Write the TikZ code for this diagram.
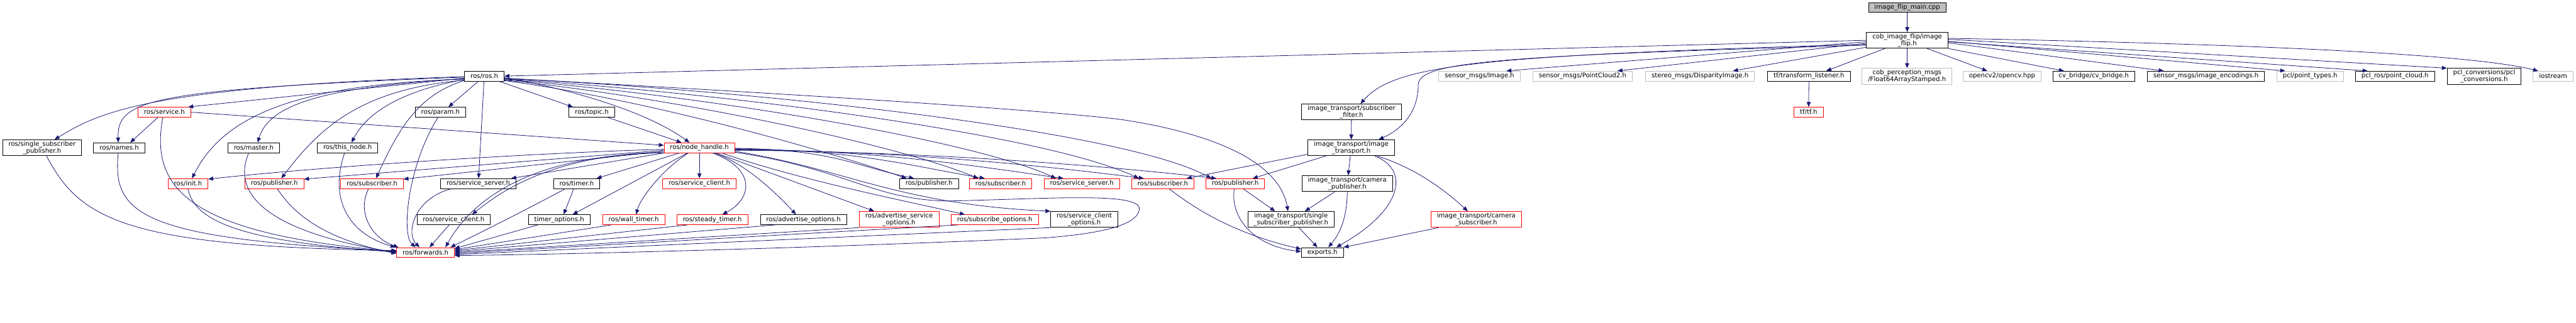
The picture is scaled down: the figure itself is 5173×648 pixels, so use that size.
\documentclass[tikz,border=0pt]{standalone}
\usepackage{fontspec}
\setmainfont{DejaVu Sans}
\usetikzlibrary{arrows.meta}
\definecolor{edgeblue}{HTML}{191970}
\definecolor{greyline}{HTML}{BFBFBF}
\tikzset{
  hfile/.style={draw=black,fill=white,line width=1pt,inner xsep=12pt,inner ysep=0pt,
    minimum height=20pt,align=center,font=\fontsize{12.8}{11.5}\selectfont},
  hred/.style={hfile,draw=red},
  hgrey/.style={hfile,draw=greyline},
  hmain/.style={hfile,fill=greyline},
  two/.style={minimum height=32pt},
  inc/.style={edgeblue,line width=1pt,-{Triangle[length=10pt,width=8pt]}}
}
\begin{document}
\begin{tikzpicture}[x=1pt,y=1pt]
\useasboundingbox (0,0) rectangle (5173,-648);
\node[hmain] (main) at (3830,-15) {image\_flip\_main.cpp};
\node[hfile,two] (flip) at (3830,-81) {cob\_image\_flip/image\\\_flip.h};
\node[hfile] (ros) at (972.5,-153) {ros/ros.h};
\node[hgrey] (img) at (2971,-153) {sensor\_msgs/Image.h};
\node[hgrey] (pc2) at (3178,-153) {sensor\_msgs/PointCloud2.h};
\node[hgrey] (disp) at (3414,-153) {stereo\_msgs/DisparityImage.h};
\node[hfile] (tfl) at (3632.5,-153) {tf/transform\_listener.h};
\node[hred] (tf) at (3632,-225.5) {tf/tf.h};
\node[hgrey,two] (f64) at (3829.5,-153.5) {cob\_perception\_msgs\\/Float64ArrayStamped.h};
\node[hgrey] (ocv) at (4020.5,-153) {opencv2/opencv.hpp};
\node[hfile] (cvb) at (4204.5,-153) {cv\_bridge/cv\_bridge.h};
\node[hfile] (enc) at (4430,-153) {sensor\_msgs/image\_encodings.h};
\node[hgrey] (pclt) at (4639,-153) {pcl/point\_types.h};
\node[hfile] (pclros) at (4809.5,-153) {pcl\_ros/point\_cloud.h};
\node[hfile,two] (pclconv) at (4988.5,-153.5) {pcl\_conversions/pcl\\\_conversions.h};
\node[hgrey] (iostr) at (5127,-153) {iostream};
\node[hfile,two] (itsf) at (2714,-225) {image\_transport/subscriber\\\_filter.h};
\node[hfile,two] (it) at (2713.5,-297) {image\_transport/image\\\_transport.h};
\node[hfile,two] (itcp) at (2705.5,-369) {image\_transport/camera\\\_publisher.h};
\node[hred,two] (itcs) at (2964.5,-441) {image\_transport/camera\\\_subscriber.h};
\node[hfile,two] (itssp) at (2592.5,-441) {image\_transport/single\\\_subscriber\_publisher.h};
\node[hfile] (exp) at (2655.5,-507.5) {exports.h};
\node[hred] (service) at (330,-225.5) {ros/service.h};
\node[hfile] (param) at (884.5,-225.5) {ros/param.h};
\node[hfile] (topic) at (1188.5,-225.5) {ros/topic.h};
\node[hfile,two] (rssp) at (84.5,-297) {ros/single\_subscriber\\\_publisher.h};
\node[hfile] (names) at (239.5,-297) {ros/names.h};
\node[hfile] (master) at (509.5,-297) {ros/master.h};
\node[hfile] (thisnode) at (698,-297) {ros/this\_node.h};
\node[hred] (nh) at (1404.5,-297) {ros/node\_handle.h};
\node[hred] (init) at (377.5,-369) {ros/init.h};
\node[hred] (pubA) at (551,-369) {ros/publisher.h};
\node[hred] (subA) at (747,-369) {ros/subscriber.h};
\node[hfile] (srvA) at (960.5,-369) {ros/service\_server.h};
\node[hfile] (timer) at (1158,-369) {ros/timer.h};
\node[hred] (cliB) at (1404.5,-369) {ros/service\_client.h};
\node[hfile] (pubB) at (1865.5,-369) {ros/publisher.h};
\node[hred] (subB) at (2009.5,-369) {ros/subscriber.h};
\node[hred] (srvB) at (2172.5,-369) {ros/service\_server.h};
\node[hred] (subC) at (2335,-369) {ros/subscriber.h};
\node[hred] (pubC) at (2480.5,-369) {ros/publisher.h};
\node[hfile] (cliA) at (911,-441.5) {ros/service\_client.h};
\node[hfile] (topt) at (1123,-441.5) {timer\_options.h};
\node[hred] (wall) at (1272.5,-441.5) {ros/wall\_timer.h};
\node[hred] (steady) at (1430.5,-441.5) {ros/steady\_timer.h};
\node[hfile] (advopt) at (1613.5,-441.5) {ros/advertise\_options.h};
\node[hred,two] (advsrv) at (1805.5,-441) {ros/advertise\_service\\\_options.h};
\node[hred] (subopt) at (1997.5,-441.5) {ros/subscribe\_options.h};
\node[hfile,two] (cliopt) at (2177.5,-441) {ros/service\_client\\\_options.h};
\node[hred] (fwd) at (854.5,-507.5) {ros/forwards.h};

\draw[inc] (main) -- (flip);
\draw[inc] (flip.west) -- (ros.east);
\draw[inc] ([yshift=-3pt]flip.west) -- ([xshift=54pt]img.north);
\draw[inc] ([yshift=-6pt]flip.west) -- ([xshift=70pt]pc2.north);
\draw[inc] ([yshift=-14pt]flip.west) -- ([xshift=66pt]disp.north);
\draw[inc] ([xshift=-45pt]flip.south) -- ([xshift=35pt]tfl.north);
\draw[inc] (flip) -- (f64);
\draw[inc] ([xshift=40pt]flip.south) -- ([xshift=-30pt]ocv.north);
\draw[inc] (flip.south east) -- ([xshift=-60pt]cvb.north);
\draw[inc] ([yshift=-5pt]flip.east) -- ([xshift=-85pt]enc.north);
\draw[inc] ([yshift=-2pt]flip.east) -- ([xshift=-50pt]pclt.north);
\draw[inc] ([yshift=-3pt]flip.east) -- ([xshift=-55pt]pclros.north);
\draw[inc] ([yshift=2pt]flip.east) -- (pclconv.north west);
\draw[inc] ([yshift=4pt]flip.east) .. controls +(800,-15) and +(-100,25) .. ([xshift=-30pt]iostr.north);
\draw[inc] (tfl) -- (tf);
\draw[inc] ([yshift=-8pt]flip.west) .. controls (2950,-112) and (2800,-132) .. ([xshift=18pt]itsf.north);
\draw[inc] ([yshift=-10pt]flip.west) .. controls (3000,-112) and (2850,-125) .. (2848,-170)
  .. controls (2848,-230) and (2810,-262) .. ([xshift=55pt]it.north);

\draw[inc] ([yshift=-1pt]ros.west) .. controls (300,-175) and (200,-225) .. ([xshift=25pt]rssp.north);
\draw[inc] ([yshift=-2pt]ros.west) .. controls (300,-180) and (235,-200) .. ([xshift=-2pt]names.north);
\draw[inc] ([yshift=-4pt]ros.west) -- ([xshift=48pt]service.north);
\draw[inc] ([yshift=-6pt]ros.west) .. controls (600,-170) and (450,-230) .. ([xshift=8pt]init.north);
\draw[inc] ([yshift=-5pt]ros.west) .. controls (650,-175) and (540,-210) .. ([xshift=8pt]master.north);
\draw[inc] ([yshift=-7pt]ros.west) .. controls (820,-180) and (740,-220) .. ([xshift=8pt]thisnode.north);
\draw[inc] ([yshift=-8pt]ros.west) .. controls (720,-180) and (640,-260) .. ([xshift=14pt]pubA.north);
\draw[inc] ([yshift=-9pt]ros.west) .. controls (840,-190) and (800,-260) .. ([xshift=8pt]subA.north);
\draw[inc] ([xshift=-12pt]ros.south) -- ([xshift=16pt]param.north);
\draw[inc] (ros) -- (srvA);
\draw[inc] ([xshift=30pt]ros.south) -- ([xshift=-38pt]topic.north);
\draw[inc] ([yshift=-3pt]ros.east) .. controls (1150,-180) and (1300,-225) .. ([xshift=-20pt]nh.north);
\draw[inc] ([xshift=32pt]topic.south) -- ([xshift=-36pt]nh.north);
\draw[inc] (service.east) -- ([yshift=5pt]nh.west);
\draw[inc] ([xshift=-13pt]service.south) -- ([xshift=22pt]names.north);
\draw[inc] ([yshift=-9pt]ros.east) .. controls (1300,-200) and (1650,-300) .. ([xshift=-45pt]pubB.north);
\draw[inc] ([yshift=-8pt]ros.east) .. controls (1350,-195) and (1800,-290) .. ([xshift=-45pt]subB.north);
\draw[inc] ([yshift=-7pt]ros.east) .. controls (1400,-190) and (1950,-280) .. ([xshift=-52pt]srvB.north);
\draw[inc] ([yshift=-6pt]ros.east) .. controls (1450,-185) and (2100,-270) .. ([xshift=-48pt]subC.north);
\draw[inc] ([yshift=-5pt]ros.east) .. controls (1500,-180) and (2250,-260) .. ([xshift=-48pt]pubC.north);
\draw[inc] ([yshift=-4pt]ros.east) .. controls (1700,-195) and (2100,-222) .. (2250,-240)
  .. controls (2450,-270) and (2570,-330) .. ([xshift=-6pt]itssp.north);

\draw[inc] ([yshift=-1pt]nh.east) .. controls +(200,-3) and +(-120,25) .. ([xshift=-30pt]pubB.north);
\draw[inc] ([yshift=-2pt]nh.east) .. controls +(250,-3) and +(-150,25) .. ([xshift=-32pt]subB.north);
\draw[inc] ([yshift=-3pt]nh.east) .. controls +(300,-3) and +(-180,25) .. ([xshift=-37pt]srvB.north);
\draw[inc] ([yshift=-4pt]nh.east) .. controls +(350,-3) and +(-200,25) .. ([xshift=-38pt]subC.north);
\draw[inc] ([yshift=-5pt]nh.east) .. controls +(400,-3) and +(-220,25) .. ([xshift=-38pt]pubC.north);
\draw[inc] ([yshift=-3pt]nh.west) .. controls (1000,-310) and (600,-340) .. ([yshift=9pt]init.east);
\draw[inc] ([yshift=-5pt]nh.west) -- ([yshift=9pt]pubA.east);
\draw[inc] ([yshift=-7pt]nh.west) -- ([yshift=9pt]subA.east);
\draw[inc] (nh.south west) -- ([xshift=66pt]srvA.north);
\draw[inc] ([xshift=-40pt]nh.south) -- ([xshift=40pt]timer.north);
\draw[inc] ([xshift=-24pt]nh.south) -- ([xshift=27pt]topt.north);
\draw[inc] ([xshift=-22pt]nh.south) .. controls (1330,-340) and (1285,-400) .. ([xshift=5pt]wall.north);
\draw[inc] (nh) -- (cliB);
\draw[inc] ([xshift=26pt]nh.south) .. controls (1520,-340) and (1510,-400) .. ([xshift=20pt]steady.north);
\draw[inc] ([xshift=30pt]nh.south) .. controls (1500,-330) and (1560,-390) .. ([xshift=-15pt]advopt.north);
\draw[inc] ([xshift=34pt]nh.south) -- ([xshift=-50pt]advsrv.north);
\draw[inc] ([xshift=45pt]nh.south) .. controls (1600,-360) and (1800,-400) .. ([xshift=-60pt]subopt.north);
\draw[inc] ([yshift=-7pt]nh.east) .. controls (1700,-340) and (1800,-410) .. (cliopt.north west);
\draw[inc] ([yshift=-9pt]nh.east) .. controls (1700,-340) and (1750,-400) .. (1900,-404)
  .. controls (2100,-400) and (2290,-385) .. (2288,-420)
  .. controls (2285,-455) and (2200,-470) .. (2100,-478)
  .. controls (1600,-500) and (1100,-512) .. ([yshift=-6pt]fwd.east);
\draw[inc] (nh.south west) .. controls (1100,-310) and (960,-380) .. ([xshift=40pt]fwd.north);
\draw[inc] ([yshift=2pt]nh.south west) .. controls (1100,-312) and (1000,-390) .. ([xshift=37pt]cliA.north);

\draw[inc] ([xshift=9pt]rssp.south) .. controls (160,-440) and (250,-495) .. ([yshift=4pt]fwd.west);
\draw[inc] ([xshift=-2pt]names.south) .. controls (225,-430) and (280,-480) .. ([yshift=3pt]fwd.west);
\draw[inc] ([xshift=-3pt]service.south) .. controls (300,-380) and (380,-470) .. ([yshift=2pt]fwd.west);
\draw[inc] (init.south) .. controls (390,-440) and (470,-485) .. ([yshift=1pt]fwd.west);
\draw[inc] ([xshift=-10pt]master.south) .. controls (460,-400) and (560,-470) .. (fwd.west);
\draw[inc] ([xshift=6pt]pubA.south) .. controls (590,-430) and (650,-480) .. ([yshift=-2pt]fwd.west);
\draw[inc] ([xshift=-6pt]thisnode.south) .. controls (660,-400) and (700,-470) .. ([xshift=-2pt]fwd.north west);
\draw[inc] ([xshift=-7pt]subA.south) .. controls (715,-430) and (750,-480) .. ([xshift=4pt]fwd.north west);
\draw[inc] ([xshift=-5pt]param.south) .. controls (820,-330) and (805,-470) .. ([xshift=-20pt]fwd.north);
\draw[inc] ([xshift=-55pt]srvA.south) .. controls (830,-400) and (815,-470) .. ([xshift=-12pt]fwd.north);
\draw[inc] ([xshift=-9pt]cliA.south) -- ([xshift=8pt]fwd.north);
\draw[inc] ([xshift=-23pt]timer.south) .. controls (1050,-425) and (960,-470) .. ([xshift=50pt]fwd.north);
\draw[inc] ([xshift=-6pt]timer.south) -- ([xshift=9pt]topt.north);
\draw[inc] ([xshift=-43pt]topt.south) -- ([yshift=8pt]fwd.east);
\draw[inc] ([xshift=-45pt]wall.south) -- ([yshift=6pt]fwd.east);
\draw[inc] ([xshift=-50pt]steady.south) -- ([yshift=4pt]fwd.east);
\draw[inc] ([xshift=-57pt]advopt.south) -- ([yshift=2pt]fwd.east);
\draw[inc] (advsrv.south west) -- (fwd.east);
\draw[inc] ([xshift=-74pt]subopt.south) -- ([yshift=-2pt]fwd.east);
\draw[inc] (cliopt.south west) -- ([yshift=-4pt]fwd.east);

\draw[inc] (itsf) -- (it);
\draw[inc] ([yshift=-13pt]it.west) -- ([xshift=48pt]subC.north);
\draw[inc] ([xshift=-51pt]it.south) -- ([xshift=35pt]pubC.north);
\draw[inc] (it) -- (itcp);
\draw[inc] ([xshift=47pt]it.south) .. controls (2830,-340) and (2820,-420) .. ([xshift=28pt]exp.north);
\draw[inc] ([xshift=52pt]it.south) .. controls (2850,-340) and (2910,-390) .. ([xshift=-17pt]itcs.north);
\draw[inc] ([xshift=-25pt]itcp.south) -- ([xshift=28pt]itssp.north);
\draw[inc] (itcp.south) .. controls (2705,-440) and (2690,-470) .. ([xshift=12pt]exp.north);
\draw[inc] ([xshift=16pt]itssp.south) -- ([xshift=-10pt]exp.north);
\draw[inc] ([xshift=-76pt]itcs.south) -- (exp.north east);
\draw[inc] ([xshift=13pt]subC.south) .. controls (2400,-420) and (2480,-470) .. ([yshift=7pt]exp.west);
\draw[inc] ([xshift=-2pt]pubC.south) .. controls (2470,-440) and (2520,-495) .. ([yshift=2pt]exp.west);
\draw[inc] ([xshift=16pt]pubC.south) -- ([xshift=-32pt]itssp.north);
\end{tikzpicture}
\end{document}
